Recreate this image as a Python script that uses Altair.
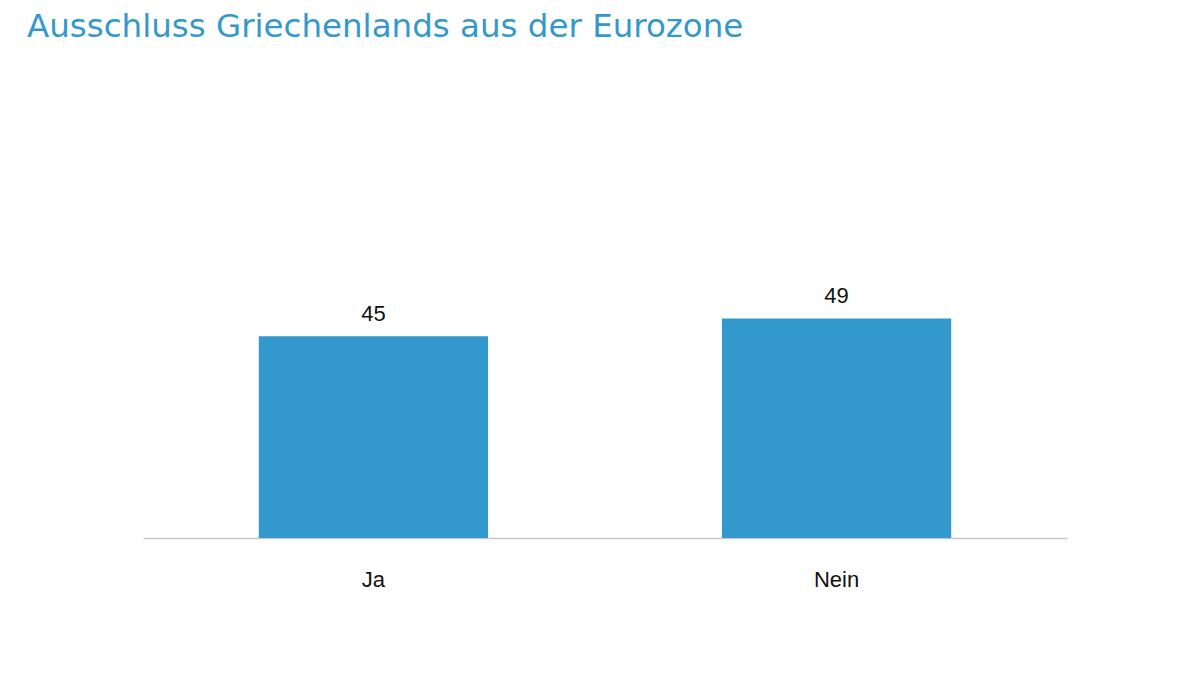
import altair as alt
import pandas as pd

categories = ["Ja", "Nein"]
values = [45, 49]

df = pd.DataFrame({"answer": categories, "value": values})

base = alt.Chart(df).encode(
    x=alt.X("answer:N", sort=categories,
            scale=alt.Scale(paddingInner=0.505, paddingOuter=0.25),
            axis=alt.Axis(title=None, labelAngle=0, ticks=False, domainColor="#c8c8c8",
                          domainWidth=1.5, labelFont="Liberation Sans", labelFontSize=22,
                          labelColor="#111111", labelPadding=31)),
    y=alt.Y("value:Q", scale=alt.Scale(domain=[0, 110]), axis=None),
)

bars = base.mark_bar(color="#3399cc")
labels = base.mark_text(dy=-15, baseline="alphabetic", font="Liberation Sans",
                        fontSize=22, color="#111111").encode(text="value:Q")

chart = (bars + labels).properties(
    width=924,
    height=493,
    autosize=alt.AutoSizeParams(type="none"),
    padding={"left": 135, "top": 37, "right": 20, "bottom": 80},
    title=alt.TitleParams("Ausschluss Griechenlands aus der Eurozone", anchor="start",
                          dx=-116, font="DejaVu Sans", fontSize=32.5, fontWeight="normal",
                          color="#3399cc", offset=2),
).configure_view(stroke=None)

chart.save("out.html", embed_options={"renderer": "svg", "actions": False})
